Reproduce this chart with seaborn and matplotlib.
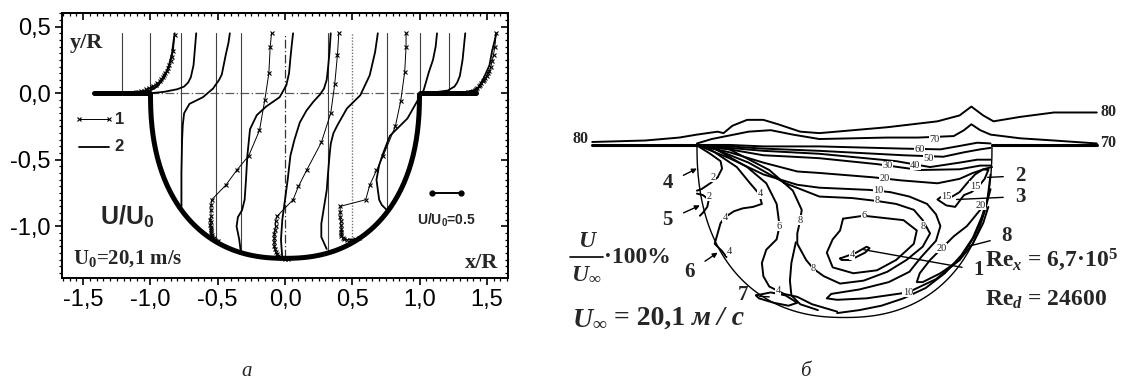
import numpy as np
import matplotlib
matplotlib.use("Agg")
import matplotlib.pyplot as plt
from matplotlib.ticker import MultipleLocator, FuncFormatter
import seaborn as sns

sns.set_theme(style="ticks")
plt.rcParams['font.family'] = ['Liberation Sans', 'DejaVu Sans']
plt.rcParams.update({
    'mathtext.fontset': 'custom',
    'mathtext.rm': 'Liberation Serif:bold',
    'mathtext.it': 'Liberation Serif:italic:bold',
    'mathtext.bf': 'Liberation Serif:bold',
    'mathtext.sf': 'Liberation Sans:bold',
    'axes.edgecolor': 'black',
    'xtick.color': 'black',
    'ytick.color': 'black',
})

# ---------------- panel a: velocity profiles U/U0 in the cavity ----------------
# stations (x/R) where the thin vertical baselines are drawn
stations_wall = [-1.21, -1.0, 1.0, 1.22]
stations_cavity = [-0.77, -0.51, -0.33, 0.32, 0.76]

# computed profiles (curve 2)
calc_a_x = [-1.21, -1.10, -1.00, -0.95, -0.91, -0.88, -0.86, -0.84, -0.83, -0.82]
calc_a_y = [0.00, 0.005, 0.02, 0.05, 0.10, 0.16, 0.22, 0.30, 0.38, 0.45]
calc_b_x = [-1.00, -0.90, -0.80, -0.75, -0.72, -0.70, -0.68, -0.67, -0.66]
calc_b_y = [0.00, 0.01, 0.03, 0.05, 0.08, 0.12, 0.21, 0.33, 0.45]
calc_c_x = [-0.77, -0.77, -0.765, -0.76, -0.75, -0.71, -0.61, -0.535, -0.49, -0.47, -0.44, -0.42, -0.41]
calc_c_y = [-0.85, -0.60, -0.35, -0.24, -0.15, -0.08, -0.03, 0.035, 0.10, 0.14, 0.29, 0.38, 0.45]
calc_d_x = [-0.33, -0.34, -0.36, -0.35, -0.32, -0.30, -0.29, -0.28, -0.26, -0.21, -0.14, -0.04, 0.01, 0.03, 0.04, 0.05, 0.06]
calc_d_y = [-1.18, -1.10, -1.00, -0.93, -0.88, -0.80, -0.65, -0.47, -0.27, -0.165, -0.10, -0.03, 0.06, 0.15, 0.26, 0.36, 0.45]
calc_e_x = [-0.02, -0.03, -0.02, 0.00, 0.02, 0.04, 0.07, 0.11, 0.16, 0.21, 0.26, 0.29, 0.31, 0.32, 0.33, 0.34]
calc_e_y = [-1.24, -1.10, -0.95, -0.80, -0.65, -0.47, -0.35, -0.22, -0.13, -0.065, -0.01, 0.035, 0.10, 0.19, 0.30, 0.45]
calc_f_x = [0.31, 0.27, 0.27, 0.29, 0.31, 0.32, 0.33, 0.34, 0.36, 0.39, 0.46, 0.56, 0.63, 0.67, 0.69]
calc_f_y = [-1.17, -1.08, -0.98, -0.855, -0.73, -0.60, -0.48, -0.38, -0.30, -0.24, -0.115, -0.015, 0.135, 0.31, 0.45]
calc_g_x = [0.76, 0.72, 0.70, 0.68, 0.70, 0.73, 0.78, 0.85, 0.91, 0.98, 1.03, 1.07, 1.10, 1.12, 1.13]
calc_g_y = [-0.88, -0.84, -0.80, -0.65, -0.54, -0.45, -0.32, -0.25, -0.19, -0.065, 0.02, 0.16, 0.25, 0.35, 0.45]
calc_h_x = [1.00, 1.10, 1.21, 1.26, 1.28, 1.30, 1.32, 1.33, 1.34]
calc_h_y = [0.00, 0.005, 0.02, 0.05, 0.08, 0.13, 0.25, 0.35, 0.45]
calc_i_x = [1.22, 1.32, 1.40, 1.44, 1.48, 1.52, 1.54, 1.56, 1.57]
calc_i_y = [0.00, 0.005, 0.02, 0.04, 0.12, 0.21, 0.32, 0.40, 0.45]

# measured profiles (curve 1)
exp_a_x = [-1.19, -1.17, -1.15, -1.13, -1.11, -1.09, -1.07, -1.05, -1.03, -1.01, -0.99, -0.98, -0.96,
           -0.95, -0.93, -0.92, -0.91, -0.90, -0.89, -0.88, -0.87, -0.86, -0.85, -0.84, -0.83, -0.82]
exp_a_y = [0.00, 0.00, 0.003, 0.005, 0.008, 0.012, 0.016, 0.02, 0.028, 0.036, 0.045, 0.055, 0.065,
           0.075, 0.09, 0.105, 0.12, 0.135, 0.15, 0.17, 0.19, 0.215, 0.24, 0.27, 0.32, 0.44]
exp_b_x = [-0.50, -0.51, -0.52, -0.53, -0.54, -0.545, -0.55, -0.55, -0.55, -0.55, -0.555, -0.55, -0.555,
           -0.55, -0.55, -0.55, -0.545, -0.44, -0.36, -0.27, -0.19, -0.15, -0.12, -0.11, -0.10]
exp_b_y = [-1.11, -1.11, -1.10, -1.09, -1.08, -1.065, -1.05, -1.035, -1.02, -1.005, -0.99, -0.97, -0.95,
           -0.92, -0.88, -0.84, -0.80, -0.69, -0.58, -0.47, -0.28, -0.05, 0.15, 0.35, 0.45]
exp_c_x = [0.02, 0.00, -0.02, -0.04, -0.05, -0.06, -0.07, -0.075, -0.08, -0.08, -0.08, -0.08, -0.075,
           -0.07, -0.07, -0.06, 0.06, 0.10, 0.16, 0.27, 0.34, 0.37, 0.39, 0.40]
exp_c_y = [-1.245, -1.245, -1.24, -1.235, -1.225, -1.21, -1.19, -1.17, -1.15, -1.12, -1.09, -1.06, -1.03,
           -1.00, -0.96, -0.925, -0.80, -0.70, -0.58, -0.37, -0.15, 0.07, 0.29, 0.45]
exp_d_x = [0.55, 0.52, 0.50, 0.48, 0.46, 0.44, 0.43, 0.42, 0.42, 0.42, 0.42, 0.415, 0.415, 0.41, 0.41,
           0.41, 0.60, 0.63, 0.68, 0.73, 0.82, 0.86, 0.89, 0.90, 0.90]
exp_d_y = [-1.09, -1.095, -1.10, -1.10, -1.10, -1.095, -1.085, -1.07, -1.055, -1.04, -1.02, -0.99, -0.96,
           -0.93, -0.89, -0.85, -0.80, -0.69, -0.58, -0.47, -0.25, -0.06, 0.16, 0.35, 0.45]
exp_e_x = [1.24, 1.27, 1.30, 1.33, 1.36, 1.38, 1.40, 1.41, 1.42, 1.43, 1.44, 1.45, 1.46, 1.47, 1.48,
           1.49, 1.50, 1.51, 1.52, 1.53, 1.54, 1.55, 1.56, 1.57]
exp_e_y = [0.00, 0.00, 0.003, 0.005, 0.008, 0.012, 0.018, 0.025, 0.033, 0.042, 0.052, 0.063, 0.075,
           0.088, 0.10, 0.115, 0.13, 0.15, 0.17, 0.20, 0.24, 0.29, 0.35, 0.45]

calc_profiles = [(calc_a_x, calc_a_y), (calc_b_x, calc_b_y), (calc_c_x, calc_c_y),
                 (calc_d_x, calc_d_y), (calc_e_x, calc_e_y), (calc_f_x, calc_f_y),
                 (calc_g_x, calc_g_y), (calc_h_x, calc_h_y), (calc_i_x, calc_i_y)]
exp_profiles = [(exp_a_x, exp_a_y), (exp_b_x, exp_b_y), (exp_c_x, exp_c_y),
                (exp_d_x, exp_d_y), (exp_e_x, exp_e_y)]

u_scale = 0.42      # x/R per unit of U/U0
probe_top = 0.45

# ---------------- panel б: isolines U/U∞·100% ----------------
iso80_x = [-1.71, -1.35, -1.12, -1.00, -0.93, -0.86, -0.82, -0.76, -0.66, -0.55, -0.45, -0.30, -0.17, 0.29, 0.63, 0.78, 0.86, 0.94, 1.01, 1.19, 1.42, 1.71]
iso80_y = [0.02, 0.03, 0.05, 0.07, 0.08, 0.09, 0.08, 0.13, 0.17, 0.17, 0.14, 0.09, 0.08, 0.12, 0.16, 0.20, 0.26, 0.20, 0.16, 0.19, 0.22, 0.22]
iso70_x = [-1.00, -0.90, -0.80, -0.65, -0.50, -0.35, -0.17, 0.29, 0.50, 0.74, 0.81, 0.86, 0.92, 0.99, 1.19, 1.42, 1.71]
iso70_y = [0.01, 0.04, 0.06, 0.09, 0.10, 0.07, 0.04, 0.05, 0.05, 0.06, 0.10, 0.14, 0.10, 0.07, 0.045, 0.03, 0.01]
iso60_x = [-1.00, -0.78, -0.55, -0.17, 0.40, 0.65, 0.78, 0.90, 0.99]
iso60_y = [0.00, 0.00, -0.01, -0.01, -0.025, -0.03, -0.007, 0.015, 0.01]
iso50_x = [-1.00, -0.78, -0.55, -0.17, 0.40, 0.67, 0.81, 0.92, 0.99]
iso50_y = [0.00, -0.01, -0.025, -0.04, -0.07, -0.08, -0.05, -0.03, -0.02]
iso40_x = [-1.00, -0.78, -0.55, -0.17, 0.35, 0.58, 0.78, 0.90, 0.99]
iso40_y = [0.00, -0.02, -0.04, -0.06, -0.11, -0.15, -0.12, -0.10, -0.10]
iso30_x = [-1.00, -0.78, -0.55, -0.35, -0.17, 0.22, 0.51, 0.78, 0.92, 0.99]
iso30_y = [0.00, -0.03, -0.07, -0.08, -0.09, -0.13, -0.17, -0.165, -0.14, -0.14]
iso20_x = [-1.00, -0.78, -0.55, -0.32, -0.17, 0.20, 0.38, 0.63, 0.78, 0.87, 0.96, 1.00]
iso20_y = [0.00, -0.05, -0.12, -0.18, -0.19, -0.22, -0.24, -0.26, -0.23, -0.19, -0.16, -0.15]
iso10_x = [-1.00, -0.78, -0.55, -0.32, -0.17, 0.17, 0.31, 0.44, 0.56, 0.62, 0.65, 0.62, 0.52, 0.44, 0.30, 0.10, -0.09, -0.12, -0.05, 0.15, 0.43, 0.62, 0.78, 0.88, 0.95, 0.99]
iso10_y = [0.00, -0.09, -0.20, -0.27, -0.29, -0.305, -0.32, -0.35, -0.40, -0.47, -0.55, -0.65, -0.76, -0.86, -0.93, -0.98, -1.01, -1.04, -1.05, -1.04, -1.00, -0.91, -0.78, -0.62, -0.45, -0.30]
iso8_x = [-1.00, -0.78, -0.51, -0.35, -0.29, -0.30, -0.32, -0.32, -0.26, -0.21, -0.14, -0.03, 0.13, 0.29, 0.42, 0.53, 0.58, 0.53, 0.47, 0.35, 0.22, 0.05, -0.17, -0.40, -0.65, -0.90, -1.00]
iso8_y = [0.00, -0.03, -0.17, -0.31, -0.44, -0.51, -0.60, -0.67, -0.78, -0.84, -0.89, -0.94, -0.92, -0.86, -0.78, -0.69, -0.60, -0.51, -0.44, -0.40, -0.38, -0.36, -0.35, -0.26, -0.12, -0.02, 0.00]
iso8b_x = [-0.33, -0.36, -0.37, -0.36, -0.30, -0.18]
iso8b_y = [-0.66, -0.80, -0.92, -1.02, -1.08, -1.12]
iso6_x = [-0.01, 0.13, 0.40, 0.49, 0.47, 0.35, 0.22, 0.06, -0.08, -0.12, -0.08, -0.03, -0.01]
iso6_y = [-0.50, -0.48, -0.51, -0.58, -0.67, -0.78, -0.85, -0.87, -0.83, -0.73, -0.64, -0.58, -0.50]
iso6a_x = [-0.97, -0.87, -0.66, -0.53, -0.46, -0.44, -0.46, -0.53, -0.56, -0.55, -0.51, -0.41, -0.32, -0.22, -0.05]
iso6a_y = [0.00, -0.03, -0.15, -0.26, -0.40, -0.55, -0.64, -0.71, -0.80, -0.89, -0.96, -1.01, -1.03, -1.08, -1.13]
iso4_x = [-0.03, 0.08, 0.15, 0.17, 0.14, 0.04, -0.02, -0.03]
iso4_y = [-0.77, -0.73, -0.69, -0.70, -0.73, -0.78, -0.78, -0.77]
iso4a_x = [-0.98, -0.91, -0.73, -0.64, -0.58, -0.56, -0.62, -0.69, -0.75, -0.81, -0.84, -0.86, -0.88, -0.83, -0.80]
iso4a_y = [0.00, -0.03, -0.15, -0.26, -0.33, -0.40, -0.42, -0.43, -0.45, -0.49, -0.53, -0.60, -0.67, -0.72, -0.76]
iso4b_x = [-0.60, -0.50, -0.40, -0.32, -0.38, -0.48, -0.58, -0.60]
iso4b_y = [-1.02, -1.00, -1.02, -1.07, -1.09, -1.07, -1.04, -1.02]
iso2a_x = [-0.99, -0.91, -0.84, -0.83, -0.86, -0.91, -0.97, -1.00]
iso2a_y = [-0.01, -0.06, -0.11, -0.16, -0.22, -0.26, -0.30, -0.31]
iso2b_x = [-1.00, -0.96, -0.92, -0.93, -0.96, -0.98]
iso2b_y = [-0.33, -0.34, -0.37, -0.42, -0.46, -0.48]
iso15_x = [0.975, 0.95, 0.91, 0.86, 0.81, 0.78, 0.75, 0.69, 0.63, 0.65, 0.73, 0.78, 0.83, 0.885, 0.94, 0.975]
iso15_y = [-0.17, -0.23, -0.28, -0.32, -0.34, -0.38, -0.42, -0.41, -0.37, -0.355, -0.35, -0.32, -0.26, -0.20, -0.165, -0.17]
iso20b_x = [0.975, 0.94, 0.87, 0.78, 0.65, 0.53, 0.49, 0.51, 0.58, 0.66, 0.74, 0.83, 0.92]
iso20b_y = [-0.42, -0.53, -0.67, -0.78, -0.87, -0.93, -0.93, -0.87, -0.78, -0.70, -0.62, -0.55, -0.44]
hug1_x = [0.99, 0.97, 0.93, 0.87, 0.79, 0.68, 0.55, 0.40, 0.25, 0.10, -0.05]
hug1_y = [-0.20, -0.36, -0.49, -0.63, -0.75, -0.87, -0.97, -1.04, -1.09, -1.12, -1.14]

isolines = [(iso80_x, iso80_y), (iso70_x, iso70_y), (iso60_x, iso60_y), (iso50_x, iso50_y),
            (iso40_x, iso40_y), (iso30_x, iso30_y), (iso20_x, iso20_y), (iso10_x, iso10_y),
            (iso8_x, iso8_y), (iso8b_x, iso8b_y), (iso6_x, iso6_y), (iso6a_x, iso6a_y),
            (iso4_x, iso4_y), (iso4a_x, iso4a_y), (iso4b_x, iso4b_y), (iso2a_x, iso2a_y),
            (iso2b_x, iso2b_y), (iso15_x, iso15_y), (iso20b_x, iso20b_y), (hug1_x, hug1_y)]

iso_labels = ['70', '60', '50', '40', '30', '20', '10', '8', '15', '15', '20', '20', '6', '4',
              '8', '8', '8', '6', '4', '4', '4', '2', '2', '10', '4']
iso_label_x = [0.61, 0.51, 0.57, 0.48, 0.29, 0.27, 0.23, 0.22, 0.885, 0.69, 0.92, 0.66, 0.13, 0.05,
               -0.30, -0.21, 0.53, -0.44, -0.57, -0.81, -0.78, -0.89, -0.92, 0.43, -0.45]
iso_label_y = [0.04, -0.03, -0.09, -0.14, -0.14, -0.23, -0.31, -0.38, -0.28, -0.35, -0.41, -0.70, -0.48, -0.745,
               -0.51, -0.84, -0.55, -0.55, -0.33, -0.49, -0.72, -0.22, -0.35, -1.00, -0.99]

# numbered points: label, label position, pointer target
pt_labels = ['4', '5', '6', '7', '2', '3', '8', '1']
pt_x = [-1.20, -1.20, -1.05, -0.69, 1.19, 1.19, 1.10, 0.91]
pt_y = [-0.26, -0.51, -0.86, -1.02, -0.21, -0.35, -0.62, -0.85]
pt_tx = [-1.00, -0.98, -0.86, -0.51, 0.97, 0.76, 0.83, 0.13]
pt_ty = [-0.16, -0.41, -0.73, -1.03, -0.22, -0.37, -0.69, -0.71]
pt_arrow = [True, True, True, False, False, False, False, False]


def cavity(depth, n=2.3, num=200):
    t = np.linspace(0, np.pi, num)
    c, s = np.cos(t), np.sin(t)
    return np.sign(c) * np.abs(c) ** (2 / n), -depth * np.abs(s) ** (2 / n)


def wall_y(x, depth, n=2.3):
    return -depth * (1 - np.abs(x) ** n) ** (1 / n)


def trace(ax, xs, ys, **kw):
    sns.lineplot(x=xs, y=ys, sort=False, estimator=None, ax=ax, legend=False, **kw)


fig = plt.figure(figsize=(11.22, 3.85), dpi=100)

# ------------- left panel -------------
axL = fig.add_axes([61.7 / 1122, 1 - 278.3 / 385, 446.6 / 1122, 265 / 385])
axL.set_xlim(-1.66, 1.66)
axL.set_ylim(-1.39, 0.60)
depthL = 1.24

# reference lines
axL.plot([-1.0, 1.0], [0, 0], color='0.35', lw=0.9, ls=(0, (7, 2, 1, 2)))
axL.plot([0, 0], [wall_y(0, depthL), probe_top], color='0.2', lw=0.9, ls=(0, (7, 2, 1, 2)))
axL.plot([0.5, 0.5], [wall_y(0.5, depthL), probe_top], color='0.45', lw=1.0, ls=(0, (1, 1.2)))
for xs in stations_wall:
    axL.plot([xs, xs], [0, probe_top], color='0.25', lw=0.8)
for xs in stations_cavity:
    axL.plot([xs, xs], [wall_y(xs, depthL), probe_top], color='0.25', lw=0.8)

for xs, ys in calc_profiles:
    trace(axL, xs, ys, color='black', lw=1.3)
for xs, ys in exp_profiles:
    trace(axL, xs, ys, color='black', lw=0.7, marker='x', markersize=3.5,
          markeredgewidth=0.8, markeredgecolor='black')

cx, cy = cavity(depthL)
axL.plot(cx, cy, color='black', lw=3.6, solid_capstyle='butt', zorder=5)
axL.plot([-1.42, -1.0], [0, 0], color='black', lw=3.6, zorder=5)
axL.plot([1.0, 1.42], [0, 0], color='black', lw=3.6, zorder=5)

# scale bar U/U0 = 0.5
bar_x0 = 1.095
axL.plot([bar_x0, bar_x0 + 0.5 * u_scale], [-0.75, -0.75], color='black', lw=1.4,
         marker='o', markersize=3.5)
axL.text(1.20, -0.955, 'U/U$_{\\mathsf{0}}$=0.5', fontsize=10, fontweight='bold',
         ha='center', va='center', family='Liberation Sans')

# legend
axL.plot([0.039, 0.105], [0.600, 0.600], transform=axL.transAxes, color='black', lw=0.7,
         marker='x', markersize=3.5, markeredgewidth=0.8)
axL.text(0.129, 0.600, '1', transform=axL.transAxes, fontsize=12, fontweight='bold',
         ha='center', va='center')
axL.plot([0.039, 0.105], [0.497, 0.497], transform=axL.transAxes, color='black', lw=1.3)
axL.text(0.129, 0.497, '2', transform=axL.transAxes, fontsize=12, fontweight='bold',
         ha='center', va='center')

serif_bold = dict(family='Liberation Serif', fontweight='bold')
axL.text(0.019, 0.887, 'y/R', transform=axL.transAxes, fontsize=16, ha='left', va='center', **serif_bold)
axL.text(0.978, 0.057, 'x/R', transform=axL.transAxes, fontsize=16, ha='right', va='center', **serif_bold)
axL.text(0.086, 0.232, 'U/U$_{\\mathsf{0}}$', transform=axL.transAxes, fontsize=18, fontweight='bold',
         ha='left', va='center', family='Liberation Sans')
axL.text(0.026, 0.075, 'U$_0$=20,1 m/s', transform=axL.transAxes, fontsize=15, ha='left',
         va='center', **serif_bold)

comma = FuncFormatter(lambda v, p: f"{v:.1f}".replace('.', ',').replace('-0,0', '0,0'))
axL.xaxis.set_major_locator(MultipleLocator(0.5))
axL.xaxis.set_minor_locator(MultipleLocator(0.05))
axL.yaxis.set_major_locator(MultipleLocator(0.5))
axL.yaxis.set_minor_locator(MultipleLocator(0.05))
axL.xaxis.set_major_formatter(comma)
axL.yaxis.set_major_formatter(comma)
axL.tick_params(which='major', direction='out', length=5, width=1.2, labelsize=17, pad=3,
                colors='black')
axL.tick_params(which='minor', direction='out', length=2.5, width=0.9)
for sp in axL.spines.values():
    sp.set_linewidth(1.4)
    sp.set_color('black')

top = axL.secondary_xaxis('top')
top.xaxis.set_major_locator(MultipleLocator(0.5))
top.xaxis.set_minor_locator(MultipleLocator(0.05))
top.tick_params(which='major', direction='in', length=5, width=1.2, labeltop=False)
top.tick_params(which='minor', direction='in', length=2.5, width=0.9)
right = axL.secondary_yaxis('right')
right.yaxis.set_major_locator(MultipleLocator(0.5))
right.yaxis.set_minor_locator(MultipleLocator(0.05))
right.tick_params(which='major', direction='in', length=5, width=1.2, labelright=False)
right.tick_params(which='minor', direction='in', length=2.5, width=0.9)

# ------------- right panel -------------
axR = fig.add_axes([540 / 1122, 1 - 365 / 385, 582 / 1122, 345 / 385])
axR.set_xlim(-2.064, 1.881)
axR.set_ylim(-1.492, 0.847)
axR.axis('off')
depthR = 1.17

rx, ry = cavity(depthR)
axR.plot(rx, ry, color='black', lw=1.0)
axR.plot([-1.71, -1.0], [0, 0], color='black', lw=2.2)
axR.plot([1.0, 1.71], [0, 0], color='black', lw=2.2)
for xs, ys in isolines:
    trace(axR, xs, ys, color='black', lw=1.4)

small_serif = dict(family='Liberation Serif', fontsize=7.5, ha='center', va='center',
                   bbox=dict(facecolor='white', edgecolor='none', pad=0.3))
for lab, lx, ly in zip(iso_labels, iso_label_x, iso_label_y):
    axR.text(lx, ly, lab, **small_serif)

axR.text(-1.79, 0.04, '80', fontsize=11.5, ha='center', va='center', **serif_bold)
axR.text(1.79, 0.22, '80', fontsize=11.5, ha='center', va='center', **serif_bold)
axR.text(1.79, 0.01, '70', fontsize=11.5, ha='center', va='center', **serif_bold)

for lab, lx, ly, tx, ty, arr in zip(pt_labels, pt_x, pt_y, pt_tx, pt_ty, pt_arrow):
    axR.annotate(lab, xy=(tx, ty), xytext=(lx, ly), fontsize=15, ha='center', va='center',
                 family='Liberation Serif', fontweight='bold',
                 arrowprops=dict(arrowstyle='-|>' if arr else '-', color='black', lw=1.0,
                                 mutation_scale=7, shrinkA=6, shrinkB=0))

ital = dict(family='Liberation Serif', fontweight='bold', style='italic')
axR.text(-1.75, -0.655, 'U', fontsize=17, ha='center', va='center', **ital)
axR.plot([-1.86, -1.64], [-0.76, -0.76], color='black', lw=1.2)
axR.text(-1.75, -0.875, 'U$_\\infty$', fontsize=17, ha='center', va='center', **ital)
axR.text(-1.63, -0.76, '·100%', fontsize=17, ha='left', va='center', **serif_bold)

t1 = axR.text(-1.85, -1.22, 'U$_\\infty$', fontsize=20, ha='left', va='baseline', **ital)
t2 = axR.annotate(' = 20,1 ', xy=(1, 0), xycoords=t1, fontsize=20, ha='left', va='bottom',
                  **serif_bold)
axR.annotate('м / с', xy=(1, 0), xycoords=t2, fontsize=20, ha='left', va='bottom', **ital)

axR.text(0.955, -0.78, 'Re$_x$ = 6,7·10$^5$', fontsize=17, ha='left', va='center', **serif_bold)
axR.text(0.955, -1.05, 'Re$_d$ = 24600', fontsize=17, ha='left', va='center', **serif_bold)

fig.text(247 / 1122, 1 - 372 / 385, 'а', fontsize=15, ha='center', va='center',
         family='Liberation Serif', style='italic')
fig.text(805 / 1122, 1 - 372 / 385, 'б', fontsize=15, ha='center', va='center',
         family='Liberation Serif', style='italic')

fig.savefig('out.png', dpi=100)
